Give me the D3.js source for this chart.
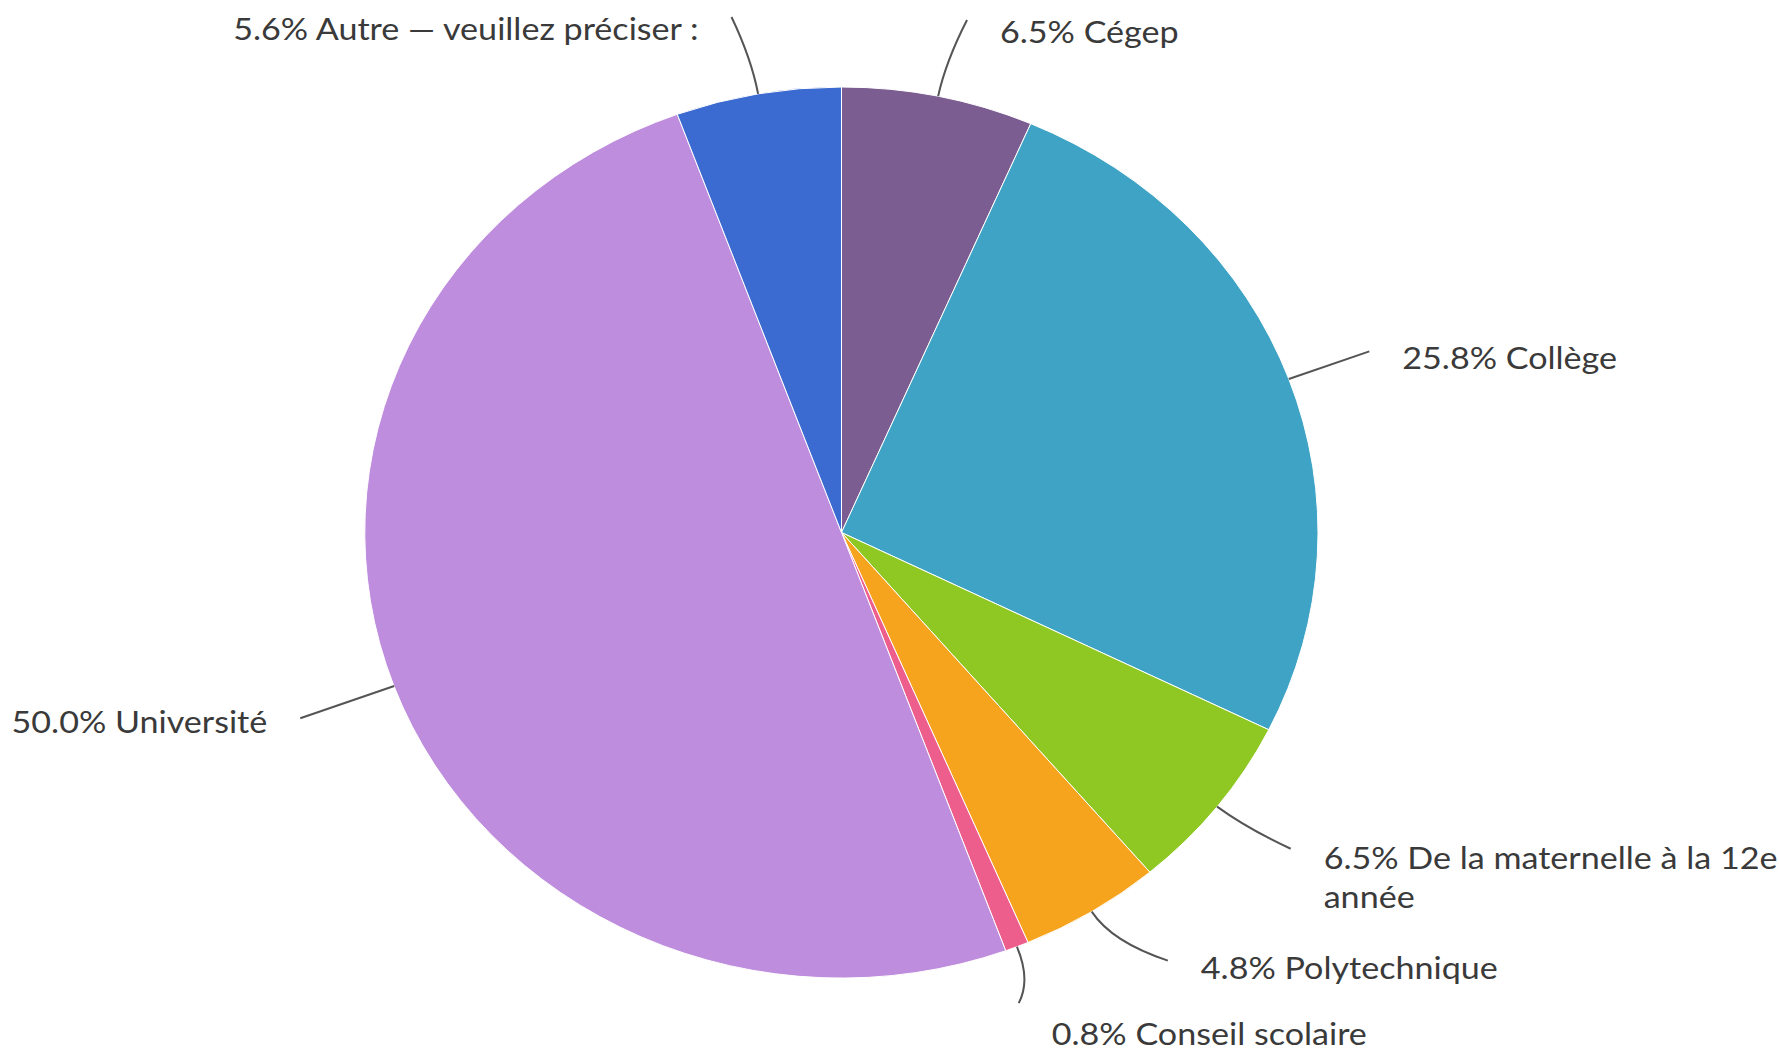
<!DOCTYPE html>
<meta charset="utf-8">
<style>
body { margin: 0; background: #fff; }
.labels text {
  font-family: Lato, "Open Sans", sans-serif;
  font-size: 31px;
  fill: #3a3a3a;
}
.leaders path {
  fill: none;
  stroke: #555;
  stroke-width: 2px;
}
</style>

<svg width="1779" height="1051"></svg>

<script src="https://d3js.org/d3.v7.min.js"></script>
<script>
// Pie chart of respondents by type of institution (French labels)

// data, in clockwise order starting at 12 o'clock
var categories = ["Cégep", "Collège", "De la maternelle à la 12e année", "Polytechnique",
                  "Conseil scolaire", "Université", "Autre — veuillez préciser :"];
var percents = [6.5, 25.8, 6.5, 4.8, 0.8, 50.0, 5.6];
var colors = ["#7b5d91", "#3ea3c4", "#8fc823", "#f6a31d", "#ee5e8c", "#bf8ddd", "#3b6ad0"];

var svg = d3.select("svg"),
    width = +svg.attr("width"),
    height = +svg.attr("height");

// the pie in the picture is slightly wider than tall
var cx = 841.5, cy = 532.5, rx = 476.5, ry = 445.5;
// text in the picture is stretched the same way
var textStretch = 1.1;

var data = categories.map(function(c, i) {
  return {name: c, value: percents[i], color: colors[i]};
});

var pie = d3.pie()
    .sort(null)
    .value(function(d) { return d.value; });

var arcs = pie(data);

var arc = d3.arc()
    .innerRadius(0)
    .outerRadius(ry);

// slices, stretched horizontally
svg.append("g")
    .attr("class", "slices")
    .attr("transform", "translate(" + cx + "," + cy + ") scale(" + (rx / ry) + ",1)")
  .selectAll("path")
    .data(arcs)
  .enter().append("path")
    .attr("d", arc)
    .style("fill", function(d) { return d.data.color; })
    .style("stroke", "#fff")
    .style("stroke-width", 1)
    .attr("vector-effect", "non-scaling-stroke");

// point on the (stretched) pie at angle a, k times the radius
function ell(a, k) {
  return [cx + k * rx * Math.sin(a), cy - k * ry * Math.cos(a)];
}

// small tweaks so the labels sit where they are in the picture
var labelTweak = {
  "Cégep": {da: 1.2, dy: 5},
  "Autre — veuillez préciser :": {da: -1.2, dy: 5},
  "De la maternelle à la 12e année": {da: -1, dy: 2},
  "Polytechnique": {da: -3.8},
  "Conseil scolaire": {da: 2.2, k: 1.12, dy: 24},
  "Université": {k: 1.21, dy: -3}
};

var deg = Math.PI / 180;

arcs.forEach(function(d) {
  var mid = (d.startAngle + d.endAngle) / 2;
  var t = labelTweak[d.data.name] || {};
  var a = mid + (t.da || 0) * deg;
  var k = t.k || 1.18;
  d.p0 = ell(mid, 1.0);
  d.p1 = ell(mid, 1.08);
  d.p2 = ell(a, k);
  d.right = Math.sin(mid) >= 0;
  d.dy = t.dy || 0;
});

// curved leader lines
svg.append("g")
    .attr("class", "leaders")
  .selectAll("path")
    .data(arcs)
  .enter().append("path")
    .attr("d", function(d) {
      var p = d3.path();
      p.moveTo(d.p0[0], d.p0[1]);
      p.quadraticCurveTo(d.p1[0], d.p1[1], d.p2[0], d.p2[1]);
      return p.toString();
    });

// labels
var fmt = d3.format(".1f");

var label = svg.append("g")
    .attr("class", "labels")
  .selectAll("text")
    .data(arcs)
  .enter().append("text")
    .attr("text-anchor", function(d) { return d.right ? "start" : "end"; })
    .attr("transform", function(d) {
      var x = d.p2[0] + (d.right ? 33 : -33),
          y = d.p2[1] + 18 + d.dy;
      return "translate(" + x + "," + y + ") scale(" + textStretch + ",1)";
    });

label.each(function(d) {
  var txt = fmt(d.data.value) + "% " + d.data.name;
  var el = d3.select(this);
  // the long label wraps after "12e"
  if (d.data.name.indexOf("12e") > 0) {
    var parts = txt.split(" année");
    el.append("tspan").text(parts[0]);
    el.append("tspan")
        .attr("x", 0)
        .attr("dy", 39)
        .text("année");
  } else {
    el.text(txt);
  }
});
</script>
